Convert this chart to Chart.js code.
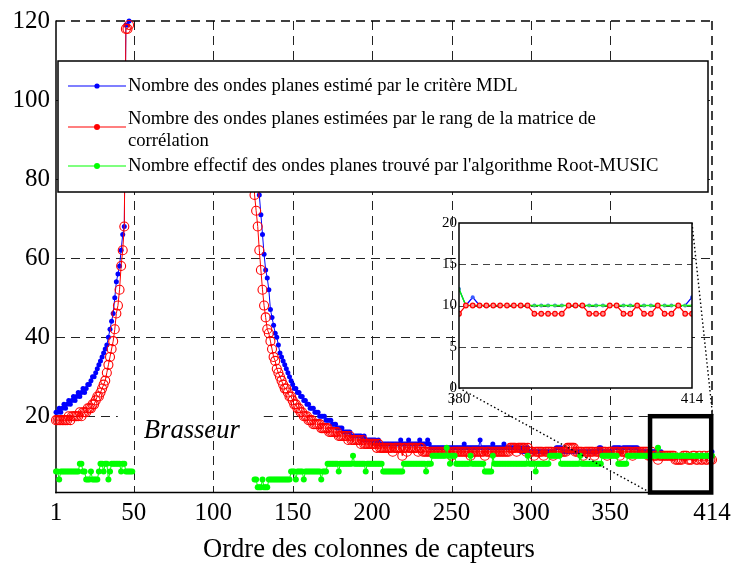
<!DOCTYPE html>
<html><head><meta charset="utf-8">
<script src="https://cdn.jsdelivr.net/npm/chart.js@4.4.1/dist/chart.umd.min.js"></script>
<style>
html,body{margin:0;padding:0;background:#fff;}
#wrap{position:relative;width:737px;height:565px;overflow:hidden;}
#main{position:absolute;left:0;top:0;}
#inset{position:absolute;}
</style></head><body>
<div id="wrap"><canvas id="main" width="737" height="565"></canvas><canvas id="inset"></canvas></div>
<script>
// ---------------- DATA ----------------
const xTickValues = [1, 50, 100, 150, 200, 250, 300, 350, 414];
const yTickValues = [20, 40, 60, 80, 100, 120];
const insetXTicks = [380, 414];
const insetYTicks = [0, 5, 10, 15, 20];
const xTitle = "Ordre des colonnes de capteurs";
const regionLabel = "Brasseur";
const seriesLabels = [
  "Nombre des ondes planes estimé par le critère MDL",
  "Nombre des ondes planes estimées par le rang de la matrice de corrélation",
  "Nombre effectif des ondes planes trouvé par l'algorithme Root-MUSIC"
];
const legendLines = [
  ["Nombre des ondes planes estimé par le critère MDL"],
  ["Nombre des ondes planes estimées par le rang de la matrice de", "corrélation"],
  ["Nombre effectif des ondes planes trouvé par l'algorithme Root-MUSIC"]
];
const nColumns = 414;
const seg1Start = 1;
const seg2Start = 125;
const rootSeg2Start = 126;

// MDL (blue) columns 1..47
const mdlSeg1 = [21,21,22,21,22,23,22,23,24,23, 24,25,24,25,26,25,26,27,26,27,
  28,28,29,30,30,31,32,33,34,35, 36,37,38,40,42,44,46,50,54,56, 58,62,66,68,119,119,120];
// MDL (blue) columns 125..414
const mdlSeg2 = [100,95,88,82,76,71,66,61,57,55, 52,47,45,43,41,40,38,36,35,34,
  33,32,31,30,29,28,27,27,26,26, 25,25,24,24,23,23,22,22,22,21,
  21,21,20,20,20,20,19,19,19,19, 18,18,18,17,17,17,17,16,16,16,
  16,16,15,15,15,15,15,15,15,14, 15,14,14,14,14,14,14,14,13,14,
  13,13,13,13,13,13,13,13,13,13, 13,13,13,14,13,13,13,13,14,13,
  13,13,13,13,13,14,13,13,13,13, 14,13,12,12,12,12,12,12,12,12,
  12,12,12,12,12,12,12,12,12,12, 12,12,12,13,12,12,12,12,12,12,
  12,12,12,14,12,12,12,12,12,12, 12,13,12,12,12,12,12,12,13,12,
  12,12,12,12,12,12,12,12,12,11, 12,11,12,12,11,11,11,11,11,11,
  11,11,11,11,11,11,11,11,11,11, 11,12,12,12,12,11,11,11,11,11,
  11,11,11,11,11,11,11,11,11,11, 11,11,11,11,11,11,11,11,12,12,
  11,11,11,11,11,11,11,12,12,12, 12,12,11,12,12,12,12,12,12,12,
  12,12,12,11,11,11,11,11,11,11, 11,11,11,11,11,12,10,11,10,10,
  10,10,10,10,10,10,10,10,10,10, 10,10,10,10,10,10,10,10,10,10,
  10,10,10,10,10,10,10,10,10,11];

// Rank of correlation matrix (red) columns 1..47
const rankSeg1 = [19,19,19,19,19,19,19,19,20,19, 20,20,20,20,20,21,20,21,21,21,
  22,22,22,23,23,24,25,25,26,27, 28,29,31,33,35,37,39,42,46,48, 52,58,62,68,118,118,119];
// Rank (red) columns 125..414
const rankSeg2 = [90,76,72,68,62,57,52,48,45,42, 41,39,37,35,34,32,31,30,29,28,
  27,27,26,25,25,24,23,23,22,22, 21,21,20,20,20,19,19,19,18,18,
  18,18,18,17,17,17,17,17,16,16, 16,16,16,16,15,15,15,15,15,15,
  14,15,14,14,14,14,14,14,13,14, 13,13,13,13,13,13,13,13,12,13,
  12,12,12,12,12,12,12,12,11,12, 12,12,12,12,10,12,12,11,12,12,
  12,12,12,12,11,12,12,11,11,11, 11,11,11,11,11,11,11,11,11,11,
  11,11,11,11,11,10,11,11,11,11, 11,11,11,11,11,11,11,10,11,11,
  11,11,11,11,11,11,10,11,11,11, 11,11,11,11,11,11,11,11,11,11,
  11,11,12,12,12,12,11,12,12,12, 12,12,11,12,11,11,11,10,11,11,
  11,11,11,10,11,11,11,11,11,10, 11,11,11,11,11,11,11,11,12,12,
  12,12,12,11,11,11,11,11,10,11, 11,11,11,11,11,10,11,11,11,11,
  11,11,11,10,11,11,11,11,11,11, 11,10,11,11,11,11,11,11,11,10,
  11,11,11,11,11,11,11,11,11,10, 10,11,10,10,10,9,10,10,10,10,
  10,10,10,10,10,10,9,9,9,9, 9,10,10,10,9,9,9,10,10,9,
  9,10,9,9,10,9,9,10,9,9];

// Root-MUSIC (green) columns 1..49
const rootSeg1 = [6,6,4,6,6,6,6,6,6,6, 6,6,6,6,6,8,8,6,6,4,
  4,4,6,4,4,4,4,6,8,8, 6,8,8,4,6,8,8,8,8,8, 8,6,8,8,6,6,6,6,6];
// Root-MUSIC (green) columns 126..414
const rootSeg2 = [4,4,2,2,2,4,2,2,2,4, 4,4,4,4,4,4,4,4,4,4,
  4,4,4,6,6,6,4,6,6,6, 6,4,6,6,6,6,6,6,6,6,
  6,6,4,6,6,6,8,8,8,8, 8,8,8,6,8,8,8,8,8,8,
  8,8,10,8,8,8,8,8,8,8, 6,8,8,8,8,8,8,8,8,8,
  8,6,6,6,6,6,6,6,6,6, 6,6,6,6,8,8,8,8,8,8,
  8,8,8,8,8,8,8,8,6,8, 8,8,10,10,10,10,10,10,10,10,
  10,12,10,8,10,10,10,8,8,8, 8,8,8,8,8,8,10,8,8,8,
  8,8,8,8,8,6,6,6,6,6, 10,8,8,8,8,8,8,8,8,8,
  8,8,8,8,8,8,8,8,8,8, 8,8,10,8,8,8,8,6,8,8,
  8,8,8,8,8,8,10,10,10,10, 10,10,10,8,8,8,8,8,8,8,
  8,8,8,8,8,10,8,8,8,8, 8,8,8,8,8,8,8,8,8,10,
  10,10,10,10,10,10,10,10,10,8, 8,8,8,8,8,10,10,10,10,10,
  10,10,10,10,10,10,10,10,10,10, 10,10,10,10,12,10,10,10,10,10,
  10,10,10,10,10,10,10,10,10,10, 10,10,10,10,10,10,10,10,10,10,
  10,10,10,10,10,10,10,10,10];
const zoomRange = [375, 413.5];   // x-range marked by the black rectangle
const insetRange = [380, 414];

// ---------------- BUILD ----------------
const xIndex = Array.from({length: nColumns}, (_, i) => i + 1);
function place(segments) {
  const out = new Array(nColumns).fill(null);
  segments.forEach(([start, vals]) => vals.forEach((v, i) => { out[start - 1 + i] = v; }));
  return out;
}
const mdl = place([[seg1Start, mdlSeg1], [seg2Start, mdlSeg2]]);
const rank = place([[seg1Start, rankSeg1], [seg2Start, rankSeg2]]);
const root = place([[seg1Start, rootSeg1], [rootSeg2Start, rootSeg2]]);

const FONT = "'Liberation Serif', 'Times New Roman', Times, serif";
const BLUE = '#0000ff', RED = '#ff0000', GREEN = '#00ff00';
const meas = document.createElement('canvas').getContext('2d');
function fitFont(text, width, style) {
  meas.font = (style || '') + ' 100px ' + FONT;
  return 100 * width / meas.measureText(text).width;
}
const legendSize = fitFont(legendLines[0][0], 390);
const brasseurSize = fitFont(regionLabel, 96, 'italic');
const titleSize = fitFont(xTitle, 332);

// ---------------- INSET ----------------
const IN = {left: 420, top: 200, width: 300, height: 215};
const insetCanvas = document.getElementById('inset');
insetCanvas.width = IN.width; insetCanvas.height = IN.height;
insetCanvas.style.left = IN.left + 'px'; insetCanvas.style.top = IN.top + 'px';
const i0 = insetRange[0] - 1, i1 = insetRange[1];
const insetX = xIndex.slice(i0, i1);

const insetDecor = {
  id: 'insetDecor',
  beforeDatasetsDraw(chart) {
    const {ctx, chartArea: a, scales: {y}} = chart;
    ctx.save();
    ctx.fillStyle = '#fff';
    ctx.fillRect(a.left, a.top, a.right - a.left, a.bottom - a.top);
    ctx.strokeStyle = '#444'; ctx.lineWidth = 1; ctx.setLineDash([7, 5]);
    insetYTicks.forEach(v => {
      if (v === y.min || v === y.max) return;
      const py = Math.round(y.getPixelForValue(v)) + 0.5;
      ctx.beginPath(); ctx.moveTo(a.left, py); ctx.lineTo(a.right, py); ctx.stroke();
    });
    ctx.restore();
  },
  afterDatasetsDraw(chart) {
    const {ctx, chartArea: a} = chart;
    ctx.save();
    ctx.strokeStyle = '#000'; ctx.lineWidth = 1.5;
    ctx.strokeRect(a.left, a.top, a.right - a.left, a.bottom - a.top);
    ctx.restore();
  }
};

const insetChart = new Chart(insetCanvas, {
  type: 'line',
  data: {
    labels: insetX,
    datasets: [
      {data: mdl.slice(i0, i1), borderColor: BLUE, backgroundColor: BLUE, borderWidth: 1.2,
       pointRadius: 2, pointBorderWidth: 0, pointBackgroundColor: '#3a5cff', order: 3},
      {data: root.slice(i0, i1), borderColor: GREEN, backgroundColor: GREEN, borderWidth: 1.4,
       pointRadius: 1.6, pointBorderWidth: 0, pointBackgroundColor: '#40e040', order: 2},
      {data: rank.slice(i0, i1), borderColor: RED, backgroundColor: RED, borderWidth: 1.2,
       pointRadius: 2.3, pointBorderWidth: 1.2, pointBorderColor: RED, pointBackgroundColor: '#ff9090', order: 1}
    ]
  },
  options: {
    responsive: false, animation: false, devicePixelRatio: 1,
    layout: {padding: {top: 23, right: 28, left: 0, bottom: 0}},
    plugins: {legend: {display: false}, tooltip: {enabled: false}},
    elements: {line: {tension: 0}},
    scales: {
      x: {type: 'linear', min: insetRange[0], max: insetRange[1],
          afterBuildTicks: s => { s.ticks = insetXTicks.map(v => ({value: v})); },
          afterFit: s => { s.height = 27; },
          grid: {display: false, drawTicks: false}, border: {display: false},
          ticks: {font: {family: FONT, size: 15}, color: '#000', padding: 2, maxRotation: 0, autoSkip: false}},
      y: {min: 0, max: 20,
          afterBuildTicks: s => { s.ticks = insetYTicks.map(v => ({value: v})); },
          afterFit: s => { s.width = 39; },
          grid: {display: false, drawTicks: false}, border: {display: false},
          ticks: {font: {family: FONT, size: 15}, color: '#000', padding: 2}}
    }
  },
  plugins: [insetDecor]
});

// ---------------- MAIN ----------------
function line(ctx, x0, y0, x1, y1) { ctx.beginPath(); ctx.moveTo(x0, y0); ctx.lineTo(x1, y1); ctx.stroke(); }

const LEG = {x: 58, y: 61, w: 650, h: 131, l0: 68, l1: 126, tx: 128,
             rows: [86, 127, 166], textRows: [[86], [119, 141], [166]]};

const decor = {
  id: 'decor',
  beforeDatasetsDraw(chart) {
    const {ctx, chartArea: a, scales: {x, y}} = chart;
    ctx.save();
    // region label
    const bx = x.getPixelForValue(86.5), by = y.getPixelForValue(16.2);
    ctx.font = 'italic ' + brasseurSize + 'px ' + FONT;
    const bw = ctx.measureText(regionLabel).width;
    const gap0 = bx - bw / 2 - 26, gap1 = bx + bw / 2 + 24;
    // grid
    ctx.strokeStyle = '#222'; ctx.lineWidth = 1; ctx.setLineDash([9, 6]);
    xTickValues.forEach(v => {
      if (v === x.min || v === x.max) return;
      const px = Math.round(x.getPixelForValue(v)) + 0.5;
      line(ctx, px, a.top, px, a.bottom);
    });
    yTickValues.forEach(v => {
      if (v === y.max) return;
      const py = Math.round(y.getPixelForValue(v)) + 0.5;
      if (py > by - 25 && py < by + 25) {
        line(ctx, a.left, py, gap0, py);
        line(ctx, gap1, py, a.right, py);
      } else line(ctx, a.left, py, a.right, py);
    });
    ctx.lineWidth = 1.5; ctx.strokeStyle = '#000';
    line(ctx, a.left, a.top, a.right, a.top);
    line(ctx, a.right, a.top, a.right, a.bottom);
    ctx.setLineDash([]);
    line(ctx, a.left, a.top - 0.5, a.left, a.bottom + 0.75);
    line(ctx, a.left - 0.75, a.bottom, a.right, a.bottom);
    ctx.fillStyle = '#000'; ctx.textAlign = 'center'; ctx.textBaseline = 'middle';
    ctx.fillText(regionLabel, bx, by);
    ctx.restore();
  },
  afterDatasetsDraw(chart) {
    const {ctx, chartArea: a, scales: {x, y}} = chart;
    ctx.save();
    // zoom rectangle
    const rx0 = x.getPixelForValue(zoomRange[0]), rx1 = x.getPixelForValue(zoomRange[1]);
    const ry0 = y.getPixelForValue(20), ry1 = a.bottom;
    ctx.strokeStyle = '#000'; ctx.lineWidth = 4.5;
    ctx.strokeRect(rx0, ry0, rx1 - rx0, ry1 - ry0);
    // connectors to inset
    const ia = insetChart.chartArea;
    ctx.lineWidth = 1.4; ctx.setLineDash([1.5, 2.5]);
    line(ctx, IN.left + ia.left, IN.top + ia.bottom, rx0, ry1);
    line(ctx, IN.left + ia.right, IN.top + ia.top, rx1 + 1.5, ry0);
    ctx.setLineDash([]);
    // legend
    ctx.fillStyle = '#fff';
    ctx.fillRect(LEG.x, LEG.y, LEG.w, LEG.h);
    ctx.lineWidth = 1.5; ctx.strokeStyle = '#000';
    ctx.strokeRect(LEG.x, LEG.y, LEG.w, LEG.h);
    const colors = [BLUE, RED, GREEN];
    const mr = [2.6, 3, 3];
    ctx.font = legendSize + 'px ' + FONT;
    ctx.textAlign = 'left'; ctx.textBaseline = 'middle';
    legendLines.forEach((lines, k) => {
      ctx.strokeStyle = colors[k]; ctx.lineWidth = 1.2;
      line(ctx, LEG.l0, LEG.rows[k], LEG.l1, LEG.rows[k]);
      ctx.fillStyle = colors[k];
      ctx.beginPath(); ctx.arc((LEG.l0 + LEG.l1) / 2, LEG.rows[k], mr[k], 0, Math.PI * 2); ctx.fill();
      ctx.fillStyle = '#000';
      lines.forEach((t, j) => ctx.fillText(t, LEG.tx, LEG.textRows[k][j]));
    });
    // axis title
    ctx.font = titleSize + 'px ' + FONT;
    ctx.textAlign = 'center'; ctx.textBaseline = 'middle';
    ctx.fillText(xTitle, 369, 550);
    ctx.restore();
  }
};

const mainChart = new Chart(document.getElementById('main'), {
  type: 'line',
  data: {
    labels: xIndex,
    datasets: [
      {label: seriesLabels[0], data: mdl, borderColor: BLUE, backgroundColor: BLUE, borderWidth: 1,
       pointRadius: 2.5, pointBorderWidth: 0, pointBackgroundColor: BLUE, order: 3, clip: false},
      {label: seriesLabels[1], data: rank, borderColor: RED, backgroundColor: RED, borderWidth: 1,
       pointRadius: 4.5, pointBorderWidth: 1.1, pointBorderColor: RED, pointBackgroundColor: 'rgba(0,0,0,0)', order: 2, clip: false},
      {label: seriesLabels[2], data: root, borderColor: GREEN, backgroundColor: GREEN, borderWidth: 1,
       pointRadius: 3, pointBorderWidth: 0, pointBackgroundColor: GREEN, order: 1, clip: false}
    ]
  },
  options: {
    responsive: false, animation: false, devicePixelRatio: 1,
    spanGaps: false,
    layout: {padding: {left: 0, right: 25, top: 20, bottom: 0}},
    plugins: {legend: {display: false}, tooltip: {enabled: false}},
    elements: {line: {tension: 0}},
    scales: {
      x: {type: 'linear', min: 1, max: nColumns,
          afterBuildTicks: s => { s.ticks = xTickValues.map(v => ({value: v})); },
          afterFit: s => { s.height = 72.5; },
          grid: {display: false, drawTicks: false}, border: {display: false},
          ticks: {font: {family: FONT, size: 25}, color: '#000', padding: 6, maxRotation: 0, autoSkip: false}},
      y: {min: 0.7, max: 120,
          afterBuildTicks: s => { s.ticks = yTickValues.map(v => ({value: v})); },
          afterFit: s => { s.width = 56; },
          grid: {display: false, drawTicks: false}, border: {display: false},
          ticks: {font: {family: FONT, size: 25}, color: '#000', padding: 6}}
    }
  },
  plugins: [decor]
});
</script></body></html>
